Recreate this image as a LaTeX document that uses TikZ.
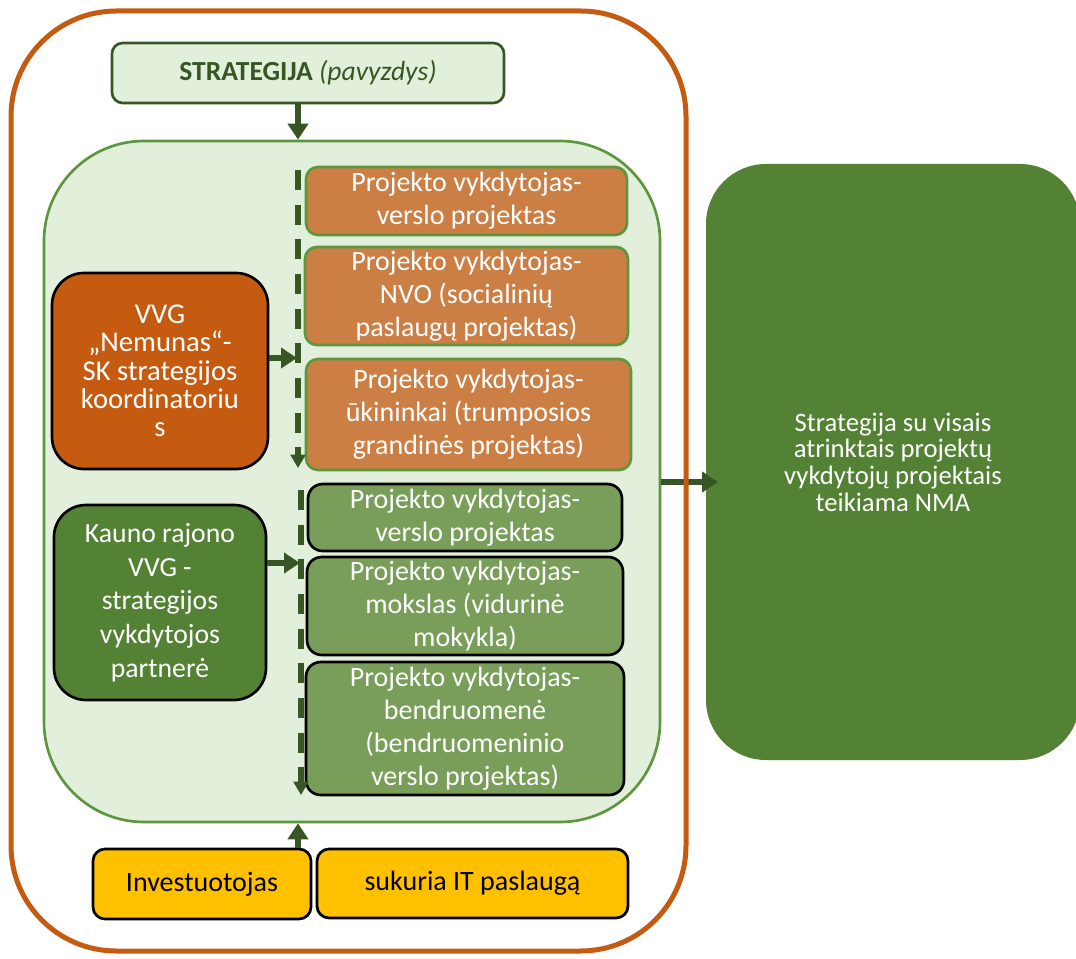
\documentclass[tikz,border=0pt]{standalone}
\usepackage{fontspec}
\setmainfont{Carlito}
\usetikzlibrary{arrows.meta}

\definecolor{frameorange}{HTML}{C55A11}
\definecolor{palegreen}{HTML}{E2EFDA}
\definecolor{darkgreen}{HTML}{375623}
\definecolor{midgreen}{HTML}{5E9640}
\definecolor{boxorange}{HTML}{CC7F45}
\definecolor{boxgreen}{HTML}{789E5A}
\definecolor{leafgreen}{HTML}{548235}
\definecolor{gold}{HTML}{FFC000}

\tikzset{
  big/.style={font=\fontsize{21}{24.75}\selectfont, align=center, inner sep=1pt},
  projo/.style={big, draw=midgreen, line width=2pt, fill=boxorange, text=white, rounded corners=9pt},
  projg/.style={big, draw=black, line width=2pt, fill=boxgreen, text=white, rounded corners=11pt},
  actor/.style={draw=black, line width=2pt, text=white, align=center, inner sep=1pt, rounded corners=24pt},
  invest/.style={big, draw=black, line width=2pt, fill=gold, rounded corners=9pt},
  flow/.style={draw=darkgreen, line width=4.5pt, -{Triangle[length=12pt,width=15pt]}},
  chain/.style={draw=darkgreen, line width=4.2pt, dash pattern=on 15pt off 11pt, -{Triangle[length=10pt,width=11pt]}},
}

\begin{document}
\begin{tikzpicture}[x=0.75pt,y=-0.75pt]
  \useasboundingbox (0,0) rectangle (1076,959);
  \clip (0,0) rectangle (1076,959);
  \fill[white] (0,0) rectangle (1076,959);

  \node[draw=midgreen, fill=palegreen, line width=2pt, rounded corners=75pt,
        minimum width=462pt, minimum height=510.75pt] (panel) at (352,481.5) {};
  \node[draw=darkgreen, fill=palegreen, line width=2pt, rounded corners=8pt,
        minimum width=294pt, minimum height=45pt, text=darkgreen,
        font=\fontsize{20.7}{24}\selectfont] (strat) at (308,73)
        {\textbf{STRATEGIJA} \textit{(pavyzdys)}};

  \node[projo, minimum width=240.75pt, minimum height=51pt]   (verslo1) at (466.5,201)
        {Projekto vykdytojas-\\verslo projektas};
  \node[projo, minimum width=242.25pt, minimum height=73.5pt] (nvo)     at (466.5,296)
        {Projekto vykdytojas-\\NVO (socialinių\\paslaugų projektas)};
  \node[projo, minimum width=243.75pt, minimum height=83.25pt] (ukis)   at (468.5,414.5)
        {Projekto vykdytojas-\\ūkininkai (trumposios\\grandinės projektas)};

  \node[projg, minimum width=235.5pt, minimum height=50.25pt] (verslo2) at (465,517.5)
        {Projekto vykdytojas-\\verslo projektas};
  \node[projg, minimum width=237pt, minimum height=73.5pt]    (mokslas) at (465,606)
        {Projekto vykdytojas-\\mokslas (vidurinė\\mokykla)};
  \node[projg, minimum width=238.5pt, minimum height=99.75pt] (bendr)   at (465,728.5)
        {Projekto vykdytojas-\\bendruomenė\\(bendruomeninio\\verslo projektas)};

  \node[actor, fill=frameorange, minimum width=162pt, minimum height=147pt,
        font=\fontsize{21.5}{21.25}\selectfont] (vvg) at (160,371)
        {VVG\\„Nemunas“-\\SK strategijos\\koordinatoriu\\s};
  \node[actor, fill=leafgreen, minimum width=159pt, minimum height=146.25pt,
        font=\fontsize{20.8}{25.25}\selectfont] (kauno) at (160,602.5)
        {Kauno rajono\\VVG -\\strategijos\\vykdytojos\\partnerė};

  \node[invest, minimum width=163.5pt, minimum height=52.5pt]  (inv) at (202,884) {Investuotojas};
  \node[invest, minimum width=233.25pt, minimum height=51.75pt] (it) at (472.5,883.5) {sukuria IT paslaugą};

  \node[fill=leafgreen, rounded corners=45pt, minimum width=280.5pt, minimum height=447pt,
        text=white, align=center, font=\fontsize{20}{20}\selectfont] (nma) at (893,462)
        {Strategija su visais\\atrinktais projektų\\vykdytojų projektais\\teikiama NMA};

  \coordinate (d1top) at (298,170);
  \coordinate (d1end) at (298,468);
  \coordinate (d2top) at (301,490);
  \coordinate (d2end) at (301,795);
  \coordinate (h1) at (297,358);
  \coordinate (h2) at (300,563);
  \coordinate (h3) at (718,482);

  \draw[flow] (d1top |- strat.south) -- (d1top |- panel.north);
  \draw[flow] (d1top |- inv.north) -- (d1top |- panel.south);
  \draw[chain] (d1top) -- (d1end);
  \draw[chain] (d2top) -- (d2end);
  \draw[flow] (vvg.east |- h1) -- (h1);
  \draw[flow] (kauno.east |- h2) -- (h2);
  \draw[flow] (panel.east |- h3) -- (h3);

  % outer frame last, over the arrow
  \node[draw=frameorange, line width=3.75pt, rounded corners=79pt,
        minimum width=506.25pt, minimum height=705pt] (frame) at (348.5,481) {};
\end{tikzpicture}
\end{document}
